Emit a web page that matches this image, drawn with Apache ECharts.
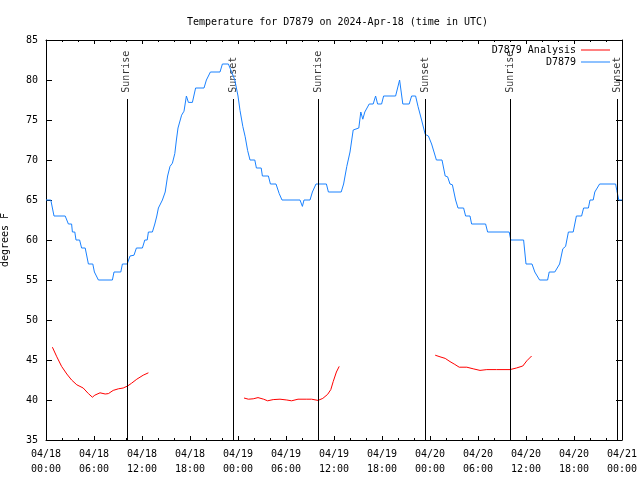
<!DOCTYPE html>
<html><head><meta charset="utf-8">
<script src="https://cdn.jsdelivr.net/npm/echarts@6/dist/echarts.min.js"></script>
<style>html,body{margin:0;padding:0;background:#fff}#c{width:640px;height:480px}</style>
</head><body><div id="c"></div>
<script>
const titleText = 'Temperature for D7879 on 2024-Apr-18 (time in UTC)';
const yAxisName = 'degrees F';
const xTickLabels = ['04/18\n00:00','04/18\n06:00','04/18\n12:00','04/18\n18:00','04/19\n00:00','04/19\n06:00','04/19\n12:00','04/19\n18:00','04/20\n00:00','04/20\n06:00','04/20\n12:00','04/20\n18:00','04/21\n00:00'];
const seriesNames = ['D7879 Analysis', 'D7879'];

// hours since 04/18 00:00 UTC
const obsHours = [0,0.6,1.0,2.4,2.8,3.2,3.3,3.6,3.75,4.2,4.45,4.9,5.1,5.3,5.85,6.05,6.3,6.55,8.3,8.5,9.35,9.55,10.15,10.5,11.0,11.3,12.05,12.35,12.65,12.8,13.3,13.6,13.85,14.05,14.3,14.55,14.9,15.2,15.5,15.8,16.1,16.3,16.5,16.95,17.25,17.55,17.8,18.3,18.7,19.75,20.05,20.55,21.75,22.05,22.8,23.2,23.6,24.0,24.25,24.6,24.9,25.2,25.5,26.1,26.3,26.9,27.05,27.8,28.05,28.75,29.15,29.5,31.75,32.05,32.25,33.0,33.3,33.75,35.05,35.3,36.9,37.2,37.6,38.0,38.4,38.6,39.1,39.35,39.6,39.85,40.1,40.4,40.9,41.2,41.45,41.95,42.2,43.7,44.2,44.6,45.4,45.7,46.2,46.5,46.95,47.4,47.8,48.2,48.5,48.8,49.5,49.9,50.2,50.5,50.8,51.2,51.5,52.2,52.45,53.0,53.2,54.95,55.2,57.9,58.1,59.7,60.0,60.75,61.1,61.7,62.7,62.9,63.6,64.2,64.6,64.95,65.3,65.9,66.3,66.95,67.2,67.8,68.0,68.4,68.6,69.2,71.2,71.35,71.6,72];
const obsTemps = [65,65,63,63,62,62,61,61,60,60,59,59,58,57,57,56,56,55,55,56,56,57,57,58,58.1,59,59,60,60,61,61,62,63,64,64.2,65,66,68,69.2,69.6,70.8,72.5,74,75.6,76.1,78,77.2,77.2,79,79,80,81,81,82,82,81,80,78,76.2,74.2,72.9,71.2,70,70,69,69,68,68,67,67,65.8,65,65,64.2,65,65,66,67,67,66,66,67,69.2,71,73.75,74,74,76,75.1,76,76,77,77,78,77,77,78,78,80,77,77,78,78,76.7,75,73.2,73,72,71,70,70,68,67.9,67,66.9,65,64,64,63,63,62,62,61,61,60,60,57,57,56,55,55,56,56,57,58.9,59.2,61,61,63,63,64,64,65,65,66,67,67,66.2,65,65];

// null = gap between analysis runs
const anaHours = [0.8,1.35,1.95,2.6,3.2,3.85,4.65,5.3,5.8,6.1,6.75,7.4,7.8,8.4,9.05,9.65,10.2,10.7,11.35,12.15,12.8,
  18,
  24.75,25.3,25.9,26.5,27.2,27.7,28.4,29.25,30.1,30.7,31.5,32.6,33.2,34.0,34.6,35.2,35.6,35.9,36.3,36.65,
  42,
  48.65,49.25,49.9,50.5,51.1,51.65,52.6,53.4,54.25,55.1,56.3,58.0,58.8,59.6,60.1,60.7];
const anaTemps = [46.6,45.4,44.2,43.25,42.5,41.9,41.5,40.8,40.35,40.6,40.9,40.75,40.8,41.2,41.4,41.5,41.75,42.1,42.6,43.1,43.4,
  null,
  40.25,40.1,40.15,40.3,40.1,39.9,40.05,40.1,40.0,39.9,40.1,40.1,40.1,39.95,40.2,40.7,41.3,42.3,43.5,44.2,
  null,
  45.6,45.4,45.2,44.8,44.45,44.1,44.1,43.9,43.7,43.8,43.8,43.8,44.0,44.25,44.9,45.5];

const sunEventHours = [10.1, 23.4, 34.05, 47.4, 58.05, 71.45];
const sunEventNames = ['Sunrise','Sunset','Sunrise','Sunset','Sunrise','Sunset'];
const sunLineTop = 77.625;
const sunLabelAt = 78.4;

const FONT = 'DejaVu Sans Mono';
const obsData = obsHours.map((h, i) => [h, obsTemps[i]]);
const anaData = anaHours.map((h, i) => [h, anaTemps[i] === null ? '-' : anaTemps[i]]);
const sunLines = sunEventHours.map(h => [{coord: [h, 35]}, {coord: [h, sunLineTop]}]);
const sunLabels = sunEventHours.map((h, i) => ({value: [h, sunLabelAt], name: sunEventNames[i]}));

const tickCommon = {show: true, inside: true, length: 4, lineStyle: {color: '#000', width: 1}};
const xBase = {
  type: 'value', min: 0, max: 72, interval: 6,
  axisLine: {show: true, onZero: false, lineStyle: {color: '#000', width: 1}},
  axisTick: tickCommon,
  minorTick: {show: true, splitNumber: 3, length: 2, lineStyle: {color: '#000', width: 1}},
  splitLine: {show: false}
};
const yBase = {
  type: 'value', min: 35, max: 85, interval: 5,
  axisLine: {show: true, onZero: false, lineStyle: {color: '#000', width: 1}},
  axisTick: Object.assign({}, tickCommon, {length: 6}),
  splitLine: {show: false}
};

const chart = echarts.init(document.getElementById('c'), null, {renderer: 'canvas'});
chart.setOption({
  animation: false,
  backgroundColor: '#fff',
  textStyle: {fontFamily: FONT, fontSize: 10, color: '#000'},
  title: {text: titleText, left: 182, top: 12,
    textStyle: {fontFamily: FONT, fontSize: 10, fontWeight: 'normal', color: '#000'}},
  legend: {
    data: seriesNames, orient: 'vertical', align: 'right', right: 30, top: 45, padding: 0,
    icon: 'rect', itemWidth: 29, itemHeight: 1, itemGap: 2, selectedMode: false,
    textStyle: {fontFamily: FONT, fontSize: 10, color: '#000'}
  },
  grid: {left: 46, right: 18, top: 40, bottom: 40, containLabel: false, outerBoundsMode: 'none'},
  xAxis: [
    Object.assign({}, xBase, {position: 'bottom',
      axisLabel: {show: true, margin: 7, lineHeight: 15, color: '#000', fontFamily: FONT, fontSize: 10,
        formatter: v => xTickLabels[Math.round(v / 6)] || ''}}),
    Object.assign({}, xBase, {position: 'top', axisLabel: {show: false}})
  ],
  yAxis: [
    Object.assign({}, yBase, {position: 'left', name: yAxisName, nameLocation: 'middle', nameGap: 36,
      nameTextStyle: {fontFamily: FONT, fontSize: 10, color: '#000'},
      axisLabel: {show: true, margin: 8, color: '#000', fontFamily: FONT, fontSize: 10}}),
    Object.assign({}, yBase, {position: 'right', axisLabel: {show: false}})
  ],
  series: [
    {name: seriesNames[0], type: 'line', data: anaData, symbol: 'none', connectNulls: false,
      lineStyle: {color: '#ff0000', width: 1}, itemStyle: {color: '#ff0000'}, silent: true},
    {name: seriesNames[1], type: 'line', data: obsData, symbol: 'none',
      lineStyle: {color: '#1a82ff', width: 1}, itemStyle: {color: '#1a82ff'}, silent: true},
    {name: 'sun', type: 'scatter', data: sunLabels, symbolSize: 1, itemStyle: {color: 'rgba(0,0,0,0)'},
      silent: true,
      label: {show: true, position: 'inside', rotate: 90, align: 'left', verticalAlign: 'middle',
        formatter: p => p.name, color: '#000', fontFamily: FONT, fontSize: 10},
      markLine: {silent: true, symbol: ['none', 'none'], label: {show: false},
        lineStyle: {color: '#000', width: 1, type: 'solid'}, emphasis: {disabled: true},
        data: sunLines}}
  ]
});
</script></body></html>
